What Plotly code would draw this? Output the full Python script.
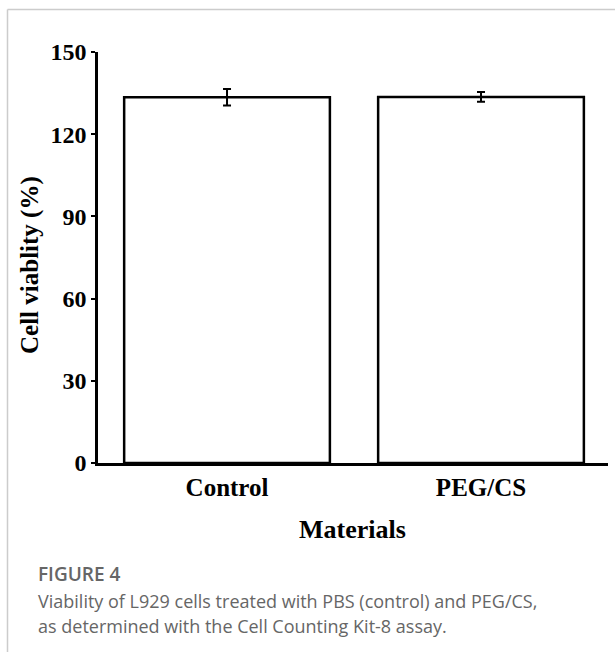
import plotly.graph_objects as go

categories = ["Control", "PEG/CS"]
viability = [133.5, 133.6]
errors = [3.0, 1.8]
y_ticks = [0, 30, 60, 90, 120, 150]

W, H = 615, 652
L, R, T, B = 98, 7, 52, 189
PW, PH = W - L - R, H - T - B

def px(x):
    return (x - L) / PW

def py(y):
    return (H - B - y) / PH

serif = "Liberation Serif, Times New Roman, serif"
sans = "Open Sans, Noto Sans, sans-serif"

fig = go.Figure(go.Bar(
    x=categories, y=viability,
    marker=dict(color="white", line=dict(color="black", width=2.5)),
    error_y=dict(type="data", array=errors, color="black", thickness=2, width=4),
    width=0.81,
))

fig.update_layout(
    width=W, height=H,
    margin=dict(l=L, r=R, t=T, b=B, pad=0),
    paper_bgcolor="white", plot_bgcolor="white",
    showlegend=False,
    xaxis=dict(
        range=[-0.508, 1.5], showline=True, linecolor="black", linewidth=2.5,
        ticks="", showgrid=False, zeroline=False,
        tickfont=dict(family=serif, size=25, color="black", weight="bold"),
    ),
    yaxis=dict(
        range=[0, 150], tickvals=y_ticks, showline=True, linecolor="black", linewidth=2.5,
        ticks="outside", ticklen=4, tickwidth=2, tickcolor="black",
        showgrid=False, zeroline=False,
        tickfont=dict(family=serif, size=24, color="black", weight="bold"),
    ),
    annotations=[
        dict(text="<b>Cell viablity (%)</b>", x=px(30), y=py(265), xref="paper", yref="paper",
             textangle=-90, showarrow=False, font=dict(family=serif, size=25, color="black"),
             xanchor="center", yanchor="middle"),
        dict(text="<b>Materials</b>", x=px(352), y=py(529), xref="paper", yref="paper",
             showarrow=False, font=dict(family=serif, size=26, color="black"),
             xanchor="center", yanchor="middle"),
        dict(text="FIGURE 4", x=px(36), y=py(574), xref="paper", yref="paper",
             showarrow=False, font=dict(family=sans, size=19, color="#666666", weight=600),
             xanchor="left", yanchor="middle"),
        dict(text="Viability of L929 cells treated with PBS (control) and PEG/CS,", x=px(36), y=py(601),
             xref="paper", yref="paper", showarrow=False,
             font=dict(family=sans, size=18, color="#666666"), xanchor="left", yanchor="middle"),
        dict(text="as determined with the Cell Counting Kit-8 assay.", x=px(36), y=py(626),
             xref="paper", yref="paper", showarrow=False,
             font=dict(family=sans, size=18, color="#666666"), xanchor="left", yanchor="middle"),
    ],
    shapes=[
        dict(type="line", xref="paper", yref="paper", x0=px(7.5), x1=px(615), y0=py(9.5), y1=py(9.5),
             line=dict(color="#cccccc", width=1.5)),
        dict(type="line", xref="paper", yref="paper", x0=px(7.5), x1=px(7.5), y0=py(9.5), y1=py(652),
             line=dict(color="#cccccc", width=1.5)),
    ],
)

fig.write_html("out.html", config={"displayModeBar": False},
               post_script="document.body.style.margin='0';document.body.style.overflow='hidden';")
